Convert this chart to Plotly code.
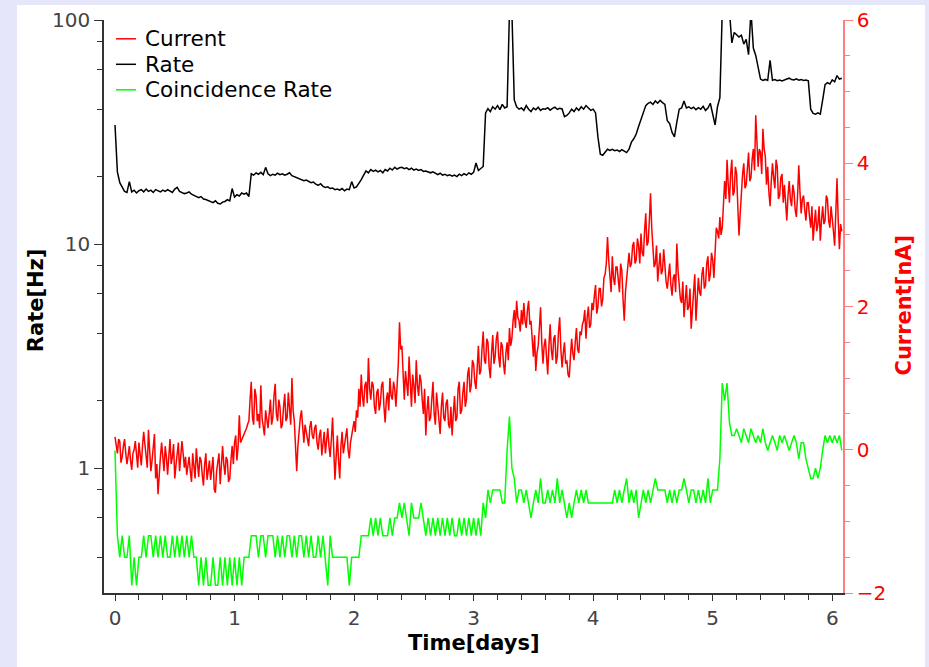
import plotly.graph_objects as go

# Sampling intervals of the loggers, in days
RATE_STEP_DAYS = 0.02
CURRENT_STEP_DAYS = 0.01

current_na = [
    0.18, 0.02, -0.05, 0.15, 0.12, -0.18, -0.10, 0.05, 0.15, -0.05,
    -0.20, -0.08, 0.05, -0.15, -0.28, -0.05, 0.00, 0.12, -0.15, -0.25,
    0.10, -0.10, -0.22, 0.05, 0.25, 0.08, -0.05, -0.25, 0.28, 0.00,
    -0.30, -0.15, 0.05, 0.22, -0.40, -0.20, -0.62, -0.30, -0.10, 0.10,
    -0.18, -0.30, 0.05, -0.10, -0.35, -0.05, 0.15, -0.20, -0.10, 0.08,
    -0.40, -0.22, 0.00, 0.10, -0.30, -0.12, 0.12, -0.05, -0.25, -0.10,
    -0.35, -0.22, -0.10, -0.30, -0.45, -0.05, -0.20, -0.40, 0.02, -0.25,
    -0.38, -0.10, -0.15, -0.35, -0.50, -0.20, -0.05, -0.42, -0.30, -0.15,
    -0.42, -0.25, -0.10, -0.55, -0.60, -0.30, -0.20, -0.05, -0.48, -0.25,
    0.05, -0.20, -0.35, -0.10, -0.15, -0.45, -0.40, -0.15, 0.05, -0.20,
    0.10, 0.20, -0.15, 0.05, 0.48, 0.10, 0.13, 0.18, 0.22, 0.25,
    0.30, 0.36, 0.40, 0.70, 0.95, 0.45, 0.35, 0.85, 0.75, 0.40,
    0.50, 0.30, 0.90, 0.45, 0.35, 0.20, 0.55, 0.40, 0.30, 0.50,
    0.70, 0.35, 0.45, 0.75, 0.92, 0.50, 0.40, 0.70, 0.60, 0.30,
    0.35, 0.60, 0.78, 0.40, 0.45, 0.80, 0.62, 0.35, 1.00, 0.55,
    0.40, 0.10, -0.30, 0.05, 0.30, 0.45, 0.55, 0.25, 0.10, 0.35,
    0.25, 0.10, 0.05, 0.32, 0.40, 0.20, 0.15, 0.30, 0.35, 0.10,
    0.00, 0.20, 0.28, -0.08, 0.08, 0.25, -0.05, 0.15, 0.30, 0.05,
    -0.10, 0.15, 0.45, 0.00, -0.42, -0.10, 0.20, -0.15, -0.40, 0.05,
    0.25, -0.05, 0.05, 0.20, 0.30, 0.00, -0.12, 0.10, 0.20, 0.35,
    0.40, 0.25, 0.55, 0.45, 0.85, 0.60, 1.05, 0.75, 0.60, 0.90,
    0.95, 0.65, 1.28, 0.85, 0.70, 0.95, 0.90, 0.60, 0.50, 0.80,
    0.85, 0.55, 0.65, 0.90, 0.95, 0.60, 0.38, 0.70, 0.80, 0.55,
    1.00, 0.75, 0.70, 0.95, 0.85, 0.60, 0.95, 1.20, 1.78, 1.40,
    1.45, 0.95, 0.70, 1.10, 0.95, 0.75, 1.30, 0.85, 0.60, 1.05,
    0.90, 0.65, 1.25, 0.90, 0.75, 1.05, 0.95, 0.70, 0.50, 0.85,
    0.20, 0.55, 0.75, 0.40, 0.45, 0.70, 0.95, 0.50, 0.35, 0.80,
    0.60, 0.40, 0.22, 0.60, 0.80, 0.45, 0.40, 0.65, 0.70, 0.35,
    0.30, 0.60, 0.20, 0.50, 0.75, 0.40, 0.45, 0.85, 0.95, 0.50,
    0.55, 0.80, 0.95, 0.60, 0.70, 1.05, 1.15, 0.80, 0.90, 1.25,
    1.20, 0.95, 0.85, 1.15, 1.45, 1.05, 1.10, 1.40, 1.65, 1.25,
    1.20, 1.55, 1.50, 1.15, 1.00, 1.35, 1.60, 1.20, 1.30, 1.55,
    1.65, 1.30, 1.15, 1.50, 1.45, 1.20, 1.05, 1.35, 1.50, 1.25,
    1.70, 1.45, 1.55, 1.80, 1.95, 1.70, 2.08, 1.85, 1.80, 1.65,
    1.95, 1.75, 2.05, 1.80, 1.70, 1.95, 2.08, 1.75, 1.80, 1.55,
    1.30, 1.60, 1.10, 1.35, 1.45, 1.70, 1.99, 1.50, 1.20, 1.45,
    1.55, 1.30, 1.05, 1.45, 1.75, 1.40, 1.25, 1.55, 1.60, 1.20,
    1.30, 1.65, 1.85, 1.40, 1.15, 1.35, 1.50, 1.20, 1.25, 1.05,
    1.01, 1.30, 1.55, 1.35, 1.25, 1.50, 1.70, 1.40, 1.35, 1.65,
    1.60, 1.75, 1.80, 1.95, 1.55, 1.85, 2.00, 1.70, 1.75, 2.05,
    1.95, 2.15, 2.30, 1.90, 2.00, 2.25, 2.25, 2.00, 2.10, 2.40,
    2.45, 2.60, 2.97, 2.65, 2.45, 2.20, 2.70, 2.40, 2.30, 2.55,
    2.55, 2.30, 2.20, 2.60, 2.50, 2.10, 1.80, 2.20, 2.40, 2.65,
    2.75, 2.55, 2.60, 2.85, 2.90, 2.60, 2.65, 2.95, 2.85, 2.60,
    3.02, 2.75, 2.70, 3.05, 3.30, 2.85, 2.90, 3.20, 3.58, 3.10,
    2.80, 2.55, 2.60, 2.85, 2.35, 2.60, 2.75, 2.45, 2.50, 2.80,
    2.55, 2.35, 2.25, 2.50, 2.60, 2.30, 2.15, 2.40, 2.45, 2.20,
    2.88, 2.50, 2.30, 2.10, 2.05, 2.35, 1.85, 2.10, 2.30, 1.95,
    2.00, 2.25, 1.69, 1.95, 2.20, 2.45, 1.80, 2.10, 2.40, 2.20,
    2.15, 2.45, 2.55, 2.25, 2.30, 2.60, 2.70, 2.35, 2.45, 2.75,
    2.65, 2.40, 2.90, 3.10, 3.05, 2.95, 3.25, 3.00, 3.10, 3.45,
    3.75, 3.50, 4.05, 3.70, 3.45, 3.85, 4.05, 3.55, 3.60, 3.95,
    3.85, 3.40, 2.99, 3.30, 3.60, 3.85, 4.00, 3.65, 3.70, 3.95,
    4.15, 3.75, 3.80, 4.05, 4.20, 3.90, 4.67, 4.30, 3.95, 4.20,
    4.15, 3.85, 4.48, 4.20, 4.10, 3.70, 3.95, 3.60, 3.40, 3.75,
    4.00, 3.80, 3.65, 4.05, 3.95, 3.50, 3.55, 3.80, 3.85, 3.45,
    3.70, 3.45, 3.20, 3.55, 3.75, 3.50, 3.40, 3.70, 3.60, 3.35,
    3.25, 3.55, 3.97, 3.60, 3.30, 3.50, 3.55, 3.35, 3.20, 3.45,
    3.45, 3.25, 3.10, 3.40, 2.92, 3.15, 3.35, 3.05, 3.15, 3.40,
    2.92, 3.20, 3.40, 3.15, 3.20, 3.55, 3.50, 3.20, 3.10, 3.40,
    3.25, 3.05, 2.85, 3.30, 3.79, 3.20, 2.80, 3.15, 3.05,
]

rate_hz = [
    34.0, 21.0, 18.8, 17.9, 17.2, 17.0, 19.0, 17.1, 17.4, 16.9,
    17.3, 17.5, 17.1, 17.6, 17.2, 17.4, 17.0, 17.5, 17.3, 17.1,
    17.4, 17.2, 17.5, 17.3, 17.0, 17.6, 17.9, 17.2, 17.0, 16.8,
    16.9, 17.1, 16.7, 16.5, 16.3, 16.1, 16.3, 15.9, 15.8, 15.6,
    15.5, 15.3, 15.6, 15.2, 15.1, 15.4, 15.5, 15.8, 15.6, 17.7,
    16.2, 16.6, 16.4, 16.9, 16.7, 16.9, 16.3, 20.6, 20.3, 20.8,
    20.5, 20.9, 20.4, 22.0, 20.6, 20.2, 20.5, 20.3, 20.7, 20.4,
    20.6, 20.3, 20.5, 20.8, 20.2, 20.0, 19.8, 19.6, 19.5, 19.2,
    19.3, 19.0, 18.8, 18.9, 18.5, 18.3, 18.6, 18.1, 17.9, 18.0,
    17.7, 17.8, 17.5, 17.6, 17.4, 17.7, 17.3, 17.6, 17.5, 19.0,
    17.8, 18.0, 18.6, 19.4, 20.3, 21.2, 20.8, 21.5, 21.1, 21.4,
    21.0, 21.3, 20.8, 21.5, 21.2, 21.8, 21.4, 22.0, 21.6, 21.9,
    22.0, 21.7, 21.9, 21.5, 21.8, 21.4, 21.6, 21.3, 21.5, 21.1,
    21.2, 21.0, 20.8, 21.0, 20.6, 20.4, 20.7, 20.3, 20.5, 20.2,
    20.4, 20.1, 20.3, 20.0, 20.5, 20.2, 20.6, 20.3, 20.8, 20.5,
    20.9, 23.0, 21.3, 21.7, 22.2, 38.5, 40.2, 39.0, 41.0, 40.0,
    41.5, 39.8, 42.0, 40.5, 41.0, 110.0, 110.0, 44.0, 41.0, 40.0,
    40.5, 39.5, 41.5, 40.0, 39.0, 40.5, 39.8, 40.8, 39.5, 40.2,
    40.0, 40.6, 39.6, 40.3, 40.8, 39.9, 40.4, 40.1, 37.0, 37.5,
    38.5, 40.0, 39.0, 40.5, 39.5, 41.0, 40.0, 41.5, 40.5, 39.5,
    40.0, 38.5, 30.0, 25.2, 24.9, 25.8, 26.5, 26.2, 26.5, 26.1,
    26.3, 25.9, 26.4, 26.0, 25.6, 26.5, 28.5, 29.5, 31.0, 33.5,
    36.0, 39.5, 41.5, 42.5, 43.0, 42.0, 43.5, 42.5, 43.8, 42.8,
    42.0, 35.5, 34.5, 31.5, 30.1, 35.0, 40.0, 40.5, 43.5, 40.5,
    41.0, 40.2, 40.8, 39.8, 40.6, 40.0, 41.2, 39.5, 40.5, 42.5,
    38.0, 34.0, 41.0, 45.0, 110.0, 110.0, 110.0, 110.0, 79.0, 88.0,
    86.0, 84.0, 85.5, 78.0, 82.0, 70.0, 110.0, 75.0, 69.5, 62.0,
    54.5, 53.8, 54.3, 53.7, 66.0, 53.8, 54.2, 53.6, 54.0, 53.5,
    53.8, 54.5, 55.0, 54.2, 54.0, 54.6, 53.9, 54.3, 53.7, 54.0,
    53.5, 40.0, 38.3, 38.0, 38.5, 38.0, 44.0, 51.5, 52.5, 51.8,
    54.0, 53.0, 56.5, 54.5, 55.0,
]

coincidence_hz = [
    1.2, 0.5, 0.4, 0.5, 0.4, 0.4, 0.5, 0.3, 0.4, 0.3,
    0.4, 0.4, 0.5, 0.4, 0.5, 0.5, 0.4, 0.5, 0.4, 0.5,
    0.4, 0.5, 0.4, 0.4, 0.5, 0.4, 0.5, 0.4, 0.5, 0.4,
    0.5, 0.4, 0.5, 0.4, 0.4, 0.3, 0.4, 0.3, 0.4, 0.3,
    0.3, 0.4, 0.3, 0.3, 0.4, 0.3, 0.4, 0.3, 0.4, 0.3,
    0.4, 0.3, 0.4, 0.3, 0.4, 0.4, 0.4, 0.5, 0.5, 0.5,
    0.4, 0.5, 0.5, 0.4, 0.5, 0.5, 0.5, 0.4, 0.5, 0.4,
    0.5, 0.4, 0.5, 0.5, 0.4, 0.5, 0.4, 0.5, 0.5, 0.4,
    0.5, 0.4, 0.5, 0.4, 0.4, 0.5, 0.4, 0.5, 0.4, 0.3,
    0.5, 0.4, 0.4, 0.4, 0.4, 0.4, 0.4, 0.4, 0.3, 0.4,
    0.4, 0.4, 0.4, 0.5, 0.5, 0.5, 0.5, 0.6, 0.5, 0.6,
    0.5, 0.6, 0.5, 0.5, 0.5, 0.6, 0.5, 0.6, 0.6, 0.7,
    0.6, 0.7, 0.6, 0.5, 0.7, 0.6, 0.6, 0.6, 0.7, 0.6,
    0.5, 0.6, 0.5, 0.6, 0.5, 0.6, 0.5, 0.6, 0.5, 0.6,
    0.5, 0.6, 0.5, 0.5, 0.6, 0.5, 0.6, 0.5, 0.6, 0.5,
    0.6, 0.5, 0.6, 0.5, 0.7, 0.6, 0.8, 0.7, 0.8, 0.8,
    0.8, 0.8, 0.7, 0.7, 1.2, 1.7, 1.0, 0.9, 0.7, 0.8,
    0.8, 0.7, 0.8, 0.7, 0.6, 0.7, 0.8, 0.7, 0.9, 0.7,
    0.7, 0.8, 0.7, 0.8, 0.7, 0.9, 0.7, 0.8, 0.7, 0.6,
    0.7, 0.6, 0.7, 0.8, 0.7, 0.8, 0.7, 0.8, 0.7, 0.7,
    0.7, 0.7, 0.7, 0.7, 0.7, 0.7, 0.7, 0.7, 0.7, 0.8,
    0.7, 0.8, 0.7, 0.8, 0.9, 0.7, 0.8, 0.7, 0.8, 0.6,
    0.7, 0.8, 0.7, 0.8, 0.7, 0.8, 0.9, 0.8, 0.8, 0.8,
    0.8, 0.7, 0.8, 0.7, 0.8, 0.7, 0.8, 0.8, 0.9, 0.8,
    0.7, 0.8, 0.8, 0.7, 0.8, 0.7, 0.8, 0.7, 0.9, 0.7,
    0.8, 0.8, 0.8, 1.1, 2.4, 2.0, 2.4, 1.6, 1.4, 1.4,
    1.5, 1.4, 1.3, 1.5, 1.4, 1.3, 1.5, 1.4, 1.3, 1.4,
    1.3, 1.5, 1.3, 1.2, 1.3, 1.4, 1.3, 1.2, 1.4, 1.3,
    1.4, 1.3, 1.2, 1.3, 1.4, 1.3, 1.1, 1.3, 1.3, 1.1,
    1.0, 0.9, 0.9, 1.0, 0.9, 1.0, 1.2, 1.4, 1.3, 1.4,
    1.3, 1.4, 1.3, 1.4, 1.2,
]

rate_time_days = [round(i * RATE_STEP_DAYS, 2) for i in range(len(rate_hz))]
current_time_days = [round(i * CURRENT_STEP_DAYS, 2) for i in range(len(current_na))]

rate_major = [1, 10, 100]
rate_major_text = ["1", "10", "100"]
rate_minor = [0.4, 0.6, 0.8, 2, 4, 6, 8, 20, 40, 60, 80]

FONT = "DejaVu Sans"
TICK_GREY = "#444444"
RED = "#ff0000"
GREEN = "#00ff00"
AXIS_RED = "#ff7f7f"

# plot-area geometry in pixels, used to place the hand-made legend and titles
W, H = 929, 667
ML, MR, MT, MB = 104, 86, 20, 74
PW, PH = W - ML - MR, H - MT - MB


def px_x(px):
    return (px - ML) / PW


def px_y(py):
    return (H - MB - py) / PH


series = [
    ("Current", current_time_days, current_na, RED, "y2"),
    ("Rate", rate_time_days, rate_hz, "#000000", "y"),
    ("Coincidence Rate", rate_time_days, coincidence_hz, GREEN, "y"),
]

fig = go.Figure()
for name, times, values, colour, axis in series:
    fig.add_trace(go.Scatter(x=times, y=values, name=name, yaxis=axis,
                             mode="lines", showlegend=False,
                             line=dict(color=colour, width=1.5)))

# legend drawn as line samples plus labels in the upper-left corner
shapes = [dict(type="rect", xref="paper", yref="paper",
               x0=px_x(17), x1=px_x(925), y0=px_y(H + 40), y1=px_y(5),
               fillcolor="#ffffff", line=dict(width=0), layer="below")]
annotations = []
for i, (name, _, _, colour, _) in enumerate(series):
    yc = px_y(38.8 + 25.5 * i)
    shapes.append(dict(type="line", xref="paper", yref="paper",
                       x0=px_x(116), x1=px_x(136), y0=yc, y1=yc,
                       line=dict(color=colour, width=1.5)))
    annotations.append(dict(text=name, xref="paper", yref="paper",
                            x=px_x(143), y=yc, xanchor="left", yanchor="middle",
                            showarrow=False,
                            font=dict(family=FONT, size=21.5, color="#000000")))

annotations += [
    dict(text="<b>Rate[Hz]</b>", xref="paper", yref="paper",
         x=px_x(35.7), y=px_y(300.5), textangle=-90, showarrow=False,
         xanchor="center", yanchor="middle",
         font=dict(family=FONT, size=21, color="#000000")),
    dict(text="<b>Current[nA]</b>", xref="paper", yref="paper",
         x=px_x(903.5), y=px_y(305), textangle=-90, showarrow=False,
         xanchor="center", yanchor="middle",
         font=dict(family=FONT, size=21, color=RED)),
    dict(text="<b>Time[days]</b>", xref="paper", yref="paper",
         x=px_x(473.5), y=px_y(643), showarrow=False,
         xanchor="center", yanchor="middle",
         font=dict(family=FONT, size=21, color="#000000")),
]

fig.update_layout(
    width=W, height=H,
    margin=dict(l=ML, r=MR, t=MT, b=MB, autoexpand=False),
    paper_bgcolor="#e6e6fa",
    plot_bgcolor="#ffffff",
    font=dict(family=FONT, size=20, color=TICK_GREY),
    showlegend=False,
    shapes=shapes,
    annotations=annotations,
    xaxis=dict(
        range=[-0.092, 6.09], showgrid=False, zeroline=False, automargin=False,
        showline=True, linecolor="#333333", linewidth=1.5,
        ticks="outside", ticklen=6, tickcolor="#333333", dtick=1, tick0=0,
        minor=dict(ticks="outside", ticklen=5, tickcolor="#333333", dtick=0.2, tick0=0),
        tickfont=dict(size=20, color=TICK_GREY),
    ),
    yaxis=dict(
        type="log", range=[-0.557, 2.0], showgrid=False, zeroline=False, automargin=False,
        showline=True, linecolor="#333333", linewidth=1.5,
        ticks="outside", ticklen=8, tickcolor="#333333",
        tickmode="array", tickvals=rate_major, ticktext=rate_major_text,
        minor=dict(ticks="outside", ticklen=5, tickcolor="#333333",
                   tickmode="array", tickvals=rate_minor),
        tickfont=dict(size=20, color=TICK_GREY),
    ),
    yaxis2=dict(
        overlaying="y", side="right", range=[-2, 6], showgrid=False, zeroline=False,
        automargin=False,
        showline=True, linecolor=AXIS_RED, linewidth=1.5,
        ticks="outside", ticklen=8, tickcolor=AXIS_RED, dtick=2, tick0=0,
        minor=dict(ticks="outside", ticklen=5, tickcolor=AXIS_RED, dtick=0.5, tick0=0),
        tickfont=dict(size=20, color=RED),
    ),
)

fig.write_html("out.html")
